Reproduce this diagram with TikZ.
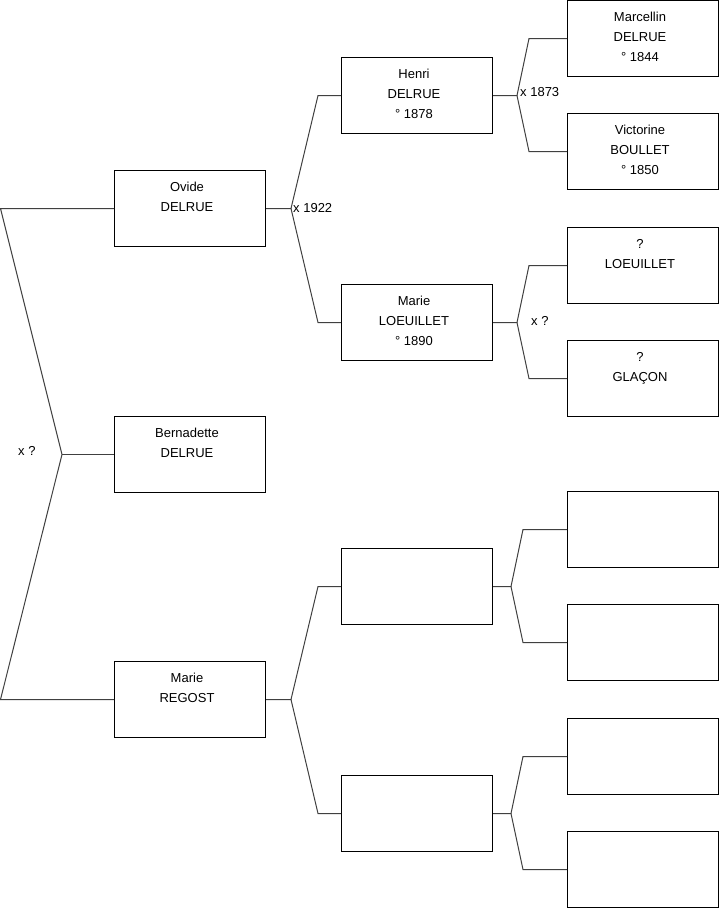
\documentclass[tikz,border=0pt]{standalone}
\usepackage{fontspec}
\setmainfont{Liberation Sans}
\usetikzlibrary{calc}

\tikzset{
  person/.style={draw=black, line width=1pt, inner sep=0pt, anchor=north west,
    minimum width=151pt, minimum height=76pt, font=\fontsize{13}{20}\selectfont},
  link/.style={draw=black!75, line width=1pt},
  wed/.style={anchor=west, inner sep=0pt, font=\fontsize{13}{16}\selectfont}
}
\newcommand{\fiche}[1]{\parbox[t][76pt][t]{145pt}{\centering\rule{0pt}{21pt}#1}\hspace*{6pt}}

\begin{document}
\begin{tikzpicture}[x=1pt, y=-1pt]
    \useasboundingbox (0,0) rectangle (719,908);

    % children
    \node[person] (ovide)  at (114,170) {\fiche{Ovide\\DELRUE}};
    \node[person] (bern)   at (114,416) {\fiche{Bernadette\\DELRUE}};
    \node[person] (regost) at (114,661) {\fiche{Marie\\REGOST}};

    % parents
    \node[person] (henri)  at (341,57)  {\fiche{Henri\\DELRUE\\° 1878}};
    \node[person] (marieL) at (341,284) {\fiche{Marie\\LOEUILLET\\° 1890}};
    \node[person] (void1)  at (341,548) {\fiche{}};
    \node[person] (void2)  at (341,775) {\fiche{}};

    % grandparents
    \node[person] (marcellin) at (567,0)   {\fiche{Marcellin\\DELRUE\\° 1844}};
    \node[person] (victorine) at (567,113) {\fiche{Victorine\\BOULLET\\° 1850}};
    \node[person] (loeuillet) at (567,227) {\fiche{?\\LOEUILLET}};
    \node[person] (glacon)    at (567,340) {\fiche{?\\GLAÇON}};
    \node[person] (void3) at (567,491) {\fiche{}};
    \node[person] (void4) at (567,604) {\fiche{}};
    \node[person] (void5) at (567,718) {\fiche{}};
    \node[person] (void6) at (567,831) {\fiche{}};

    % siblings
    \coordinate (sibtop) at ($(ovide.west)+(-113.5,0)$);
    \coordinate (sibmid) at ($(bern.west)+(-52,0)$);
    \coordinate (sibbot) at ($(regost.west)+(-113.5,0)$);
    \draw[link] (ovide.west) -- (sibtop) -- (sibmid) -- (sibbot) -- (regost.west);
    \draw[link] (sibmid) -- (bern.west);

    % couples
    \foreach \kid/\pa/\ma/\s/\t in {ovide/henri/marieL/25/23,
        henri/marcellin/victorine/24/38, marieL/loeuillet/glacon/24/38,
        regost/void1/void2/25/23, void1/void3/void4/18/44,
        void2/void5/void6/18/44}{
      \draw[link] (\kid.east) -- ++(\s,0) coordinate (fork)
        -- ($(\pa.west)+(-\t,0)$) -- (\pa.west);
      \draw[link] (fork) -- ($(\ma.west)+(-\t,0)$) -- (\ma.west);
    }

    % marriages
    \node[wed] (wq0)   at (18,451) {x ?};
    \node[wed] (w1922) at ($(ovide.east)+(27,0)$) {x 1922};
    \node[wed] (w1873) at ($(henri.east)+(27,-3)$) {x 1873};
    \node[wed] (wq1)   at ($(marieL.east)+(38,-2)$) {x ?};
\end{tikzpicture}
\end{document}
